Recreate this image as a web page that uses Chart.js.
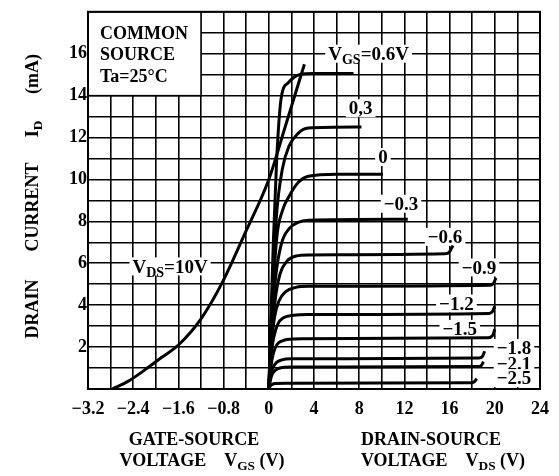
<!DOCTYPE html>
<html lang="en">
<head>
<meta charset="UTF-8">
<title>JFET characteristics</title>
<script src="https://cdn.jsdelivr.net/npm/chart.js"></script>
<style>
  body { margin: 0; background: #fff; }
  #wrap { width: 559px; height: 476px; }
</style>
</head>
<body>
<div id="wrap"><canvas id="jfetChart" width="559" height="476"></canvas></div>
<script>
// transfer curve at VDS = 10 V  (VGS in volts, ID in mA)
const transferVgs = [-2.77, -2.5, -2.2, -1.9, -1.6, -1.2, -0.82, -0.41, 0, 0.3, 0.63];
const transferId = [0, 0.35, 0.9, 1.5, 2.1, 3.35, 5.1, 7.5, 10.0, 12.6, 15.5];

// output curves, one row per VGS step
const vgsSteps = ['0.6', '0.3', '0', '-0.3', '-0.6', '-0.9', '-1.2', '-1.5', '-1.8', '-2.1', '-2.5'];
const outVds = [
  [0, 0.2, 0.4, 0.7, 1.1, 1.7, 2.7, 4, 7.5],
  [0, 0.3, 0.7, 1.2, 1.8, 2.6, 3.5, 8.2],
  [0, 0.3, 0.7, 1.2, 1.8, 2.6, 3.5, 6, 10.1],
  [0, 0.3, 0.6, 1.1, 1.8, 2.6, 3.5, 12.3],
  [0, 0.3, 0.6, 1.0, 1.6, 2.4, 3.5, 15.6, 16.0, 16.3],
  [0, 0.25, 0.5, 0.9, 1.5, 2.4, 3.5, 19.6, 19.9, 20.1],
  [0, 0.2, 0.45, 0.8, 1.3, 2.2, 3.5, 19.5, 19.8, 20],
  [0, 0.2, 0.4, 0.7, 1.2, 2, 3, 19.4, 19.8, 20],
  [0, 0.15, 0.35, 0.65, 1.1, 2, 18.6, 18.9, 19.1],
  [0, 0.15, 0.3, 0.6, 1.0, 2, 18.5, 18.8, 19],
  [0, 0.1, 0.3, 0.6, 1.5, 18, 18.2, 18.4]
];
const outId = [
  [0, 3.5, 7.0, 11.0, 13.9, 14.6, 15.0, 15.05, 15.05],
  [0, 4.5, 8.4, 10.5, 11.6, 12.2, 12.45, 12.5],
  [0, 3.8, 7.2, 8.5, 9.2, 9.85, 10.15, 10.25, 10.25],
  [0, 3.2, 5.3, 6.9, 7.65, 7.95, 8.05, 8.1],
  [0, 2.8, 4.4, 5.5, 6.1, 6.35, 6.4, 6.45, 6.55, 6.85],
  [0, 2.2, 3.4, 4.2, 4.65, 4.85, 4.9, 4.95, 5.05, 5.3],
  [0, 1.6, 2.5, 3.1, 3.4, 3.52, 3.55, 3.6, 3.7, 3.95],
  [0, 1.1, 1.7, 2.1, 2.3, 2.38, 2.4, 2.45, 2.55, 2.85],
  [0, 0.6, 1.0, 1.25, 1.38, 1.44, 1.48, 1.55, 1.8],
  [0, 0.45, 0.7, 0.9, 1.0, 1.05, 1.07, 1.12, 1.3],
  [0, 0.12, 0.22, 0.26, 0.27, 0.3, 0.35, 0.5]
];

// tick labels
const vgsTickLabels = [-3.2, -2.4, -1.6, -0.8];
const vdsTickLabels = [0, 4, 8, 12, 16, 20, 24];
const idTickLabels = [2, 4, 6, 8, 10, 12, 14, 16];

// where the curve labels sit, in VDS / ID units
const labelAt = [
  [8.83, 16.0], [8.13, 13.4], [10.1, 11.07], [11.7, 8.84], [15.6, 7.26], [18.6, 5.8],
  [16.6, 4.08], [16.9, 2.87], [21.7, 1.96], [21.7, 1.2], [21.7, 0.52]
];
const transferLabelAt = [-8.74, 5.85];

const FONT = "'Liberation Serif', 'Times New Roman', serif";
const font = (size) => `bold ${size}px ${FONT}`;
const minus = (s) => s.replace('-', '\u2212');

// text made of pieces, some of them subscripts
function richWidth(ctx, parts, size) {
  let w = 0;
  parts.forEach(p => {
    ctx.font = font(p.sub ? size * 0.74 : size);
    w += ctx.measureText(p.t).width;
  });
  return w;
}
function drawRich(ctx, parts, x, y, size, align) {
  const w = richWidth(ctx, parts, size);
  let cx = align === 'center' ? x - w / 2 : x;
  const base = y + size * 0.33;
  ctx.textAlign = 'left';
  ctx.textBaseline = 'alphabetic';
  parts.forEach(p => {
    ctx.font = font(p.sub ? size * 0.74 : size);
    ctx.fillText(p.t, cx, p.sub ? base + size * 0.22 : base);
    cx += ctx.measureText(p.t).width;
  });
  return w;
}

function curveLabelParts(i) {
  if (i === 0) return [{ t: 'V' }, { t: 'GS', sub: true }, { t: '=0.6V' }];
  if (vgsSteps[i] === '0.3') return [{ t: '0,3' }];
  return [{ t: minus(vgsSteps[i]) }];
}

const decorations = {
  id: 'decorations',
  beforeDatasetsDraw(chart) {
    const { ctx, scales } = chart;
    const x = scales.x, y = scales.y;
    ctx.save();

    // condition box in the top-left corner
    const bx0 = x.getPixelForValue(-16), bx1 = x.getPixelForValue(-6);
    const by0 = y.getPixelForValue(18), by1 = y.getPixelForValue(14);
    ctx.fillStyle = '#fff';
    ctx.fillRect(bx0, by0, bx1 - bx0, by1 - by0);
    ctx.strokeStyle = '#000';
    ctx.lineWidth = 1.5;
    ctx.strokeRect(bx0, by0, bx1 - bx0, by1 - by0);
    ctx.fillStyle = '#000';
    drawRich(ctx, [{ t: 'COMMON' }], bx0 + 12, by0 + 21, 18, 'left');
    drawRich(ctx, [{ t: 'SOURCE' }], bx0 + 12, by0 + 42, 18, 'left');
    drawRich(ctx, [{ t: 'Ta=25°C' }], bx0 + 12, by0 + 64, 18, 'left');

    // curve labels with a white patch over the grid
    const put = (parts, px, py) => {
      const w = richWidth(ctx, parts, 19);
      ctx.fillStyle = '#fff';
      ctx.fillRect(px - w / 2 - 3, py - 9, w + 6, 18);
      ctx.fillStyle = '#000';
      drawRich(ctx, parts, px, py, 19, 'center');
    };
    vgsSteps.forEach((s, i) => {
      put(curveLabelParts(i), x.getPixelForValue(labelAt[i][0]), y.getPixelForValue(labelAt[i][1]));
    });
    put([{ t: 'V' }, { t: 'DS', sub: true }, { t: '=10V' }],
      x.getPixelForValue(transferLabelAt[0]), y.getPixelForValue(transferLabelAt[1]));
    ctx.restore();
  },
  afterDraw(chart) {
    const { ctx, chartArea: a } = chart;
    ctx.save();
    ctx.strokeStyle = '#000';
    ctx.lineWidth = 2;
    ctx.strokeRect(a.left, a.top, a.right - a.left, a.bottom - a.top);

    ctx.fillStyle = '#000';
    // x titles
    drawRich(ctx, [{ t: 'GATE-SOURCE' }], 194, 439, 18, 'center');
    drawRich(ctx, [{ t: 'VOLTAGE    V' }, { t: 'GS', sub: true }, { t: ' (V)' }], 202, 460, 18, 'center');
    drawRich(ctx, [{ t: 'DRAIN-SOURCE' }], 431, 439, 18, 'center');
    drawRich(ctx, [{ t: 'VOLTAGE    V' }, { t: 'DS', sub: true }, { t: ' (V)' }], 443, 460, 18, 'center');

    // y title, rotated
    ctx.translate(32, 340);
    ctx.rotate(-Math.PI / 2);
    drawRich(ctx, [{ t: 'DRAIN' }], 31, 0, 18, 'center');
    drawRich(ctx, [{ t: 'CURRENT' }], 133, 0, 18, 'center');
    drawRich(ctx, [{ t: 'I' }, { t: 'D', sub: true }], 211, 0, 18, 'center');
    drawRich(ctx, [{ t: '(mA)' }], 266, 0, 18, 'center');
    ctx.restore();
  }
};

const datasets = [{
  data: transferVgs.map((v, i) => ({ x: v, y: transferId[i] })),
  xAxisID: 'x1',
  borderColor: '#000',
  borderWidth: 3,
  pointRadius: 0,
  cubicInterpolationMode: 'monotone'
}];
vgsSteps.forEach((s, k) => {
  datasets.push({
    data: outVds[k].map((v, i) => ({ x: v, y: outId[k][i] })),
    xAxisID: 'x',
    borderColor: '#000',
    borderWidth: 3,
    pointRadius: 0,
    cubicInterpolationMode: 'monotone'
  });
});

const tickFont = { family: FONT, size: 18, weight: 'bold' };

new Chart(document.getElementById('jfetChart'), {
  type: 'line',
  data: { datasets },
  options: {
    responsive: false,
    animation: false,
    layout: { padding: { top: 7, right: 11, left: 0, bottom: 0 } },
    plugins: { legend: { display: false }, tooltip: { enabled: false } },
    scales: {
      x: {
        type: 'linear',
        min: -16, max: 24,
        afterFit: (s) => { s.height = 87; },
        ticks: {
          stepSize: 2, autoSkip: false, maxRotation: 0, padding: 10,
          color: '#000', font: tickFont,
          callback: (v) => {
            if (v >= 0) return vdsTickLabels.includes(v) ? String(v) : '';
            const g = Math.round(v / 5 * 10) / 10;
            return vgsTickLabels.includes(g) ? '\u2212' + Math.abs(g).toFixed(1) : '';
          }
        },
        grid: { color: '#000', lineWidth: 1.6, drawTicks: false },
        border: { color: '#000', width: 2 }
      },
      x1: { type: 'linear', min: -3.2, max: 4.8, display: false },
      y: {
        min: 0, max: 18,
        afterFit: (s) => { s.width = 88; },
        ticks: {
          stepSize: 1, autoSkip: false, padding: 1,
          color: '#000', font: tickFont,
          callback: (v) => idTickLabels.includes(v) ? String(v) : ''
        },
        grid: { color: '#000', lineWidth: 1.6, drawTicks: false },
        border: { color: '#000', width: 2 }
      }
    }
  },
  plugins: [decorations]
});
</script>
</body>
</html>
